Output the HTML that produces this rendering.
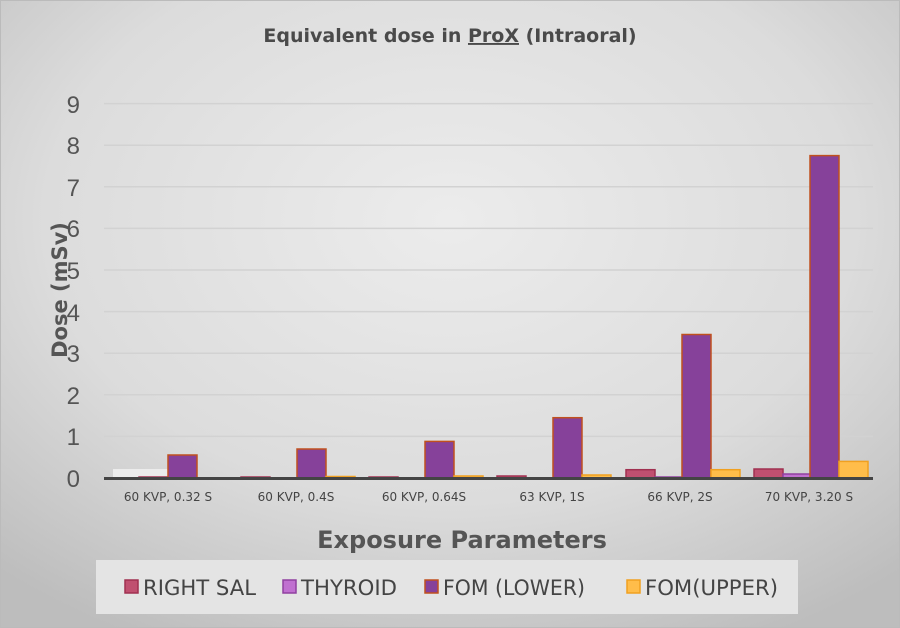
<!DOCTYPE html>
<html><head><style>
html,body{margin:0;padding:0;}
body{width:900px;height:628px;overflow:hidden;background:#d0d0d0;}
svg{display:block;font-family:"DejaVu Sans","Liberation Sans",sans-serif;}
</style></head><body>
<svg width="900" height="628" viewBox="0 0 900 628">
<defs>
<radialGradient id="bg" cx="0.5" cy="0.35" r="0.75">
<stop offset="0" stop-color="#ececec"/><stop offset="0.6" stop-color="#dcdcdc"/><stop offset="1" stop-color="#bdbdbd"/>
</radialGradient>
</defs>
<rect x="0" y="0" width="900" height="628" fill="url(#bg)"/>
<rect x="0.5" y="0.5" width="899" height="627" fill="none" stroke="#bbb"/>
<text x="450" y="42" text-anchor="middle" font-size="19" font-weight="bold" fill="#4a4a4a">Equivalent dose in <tspan text-decoration="underline">ProX</tspan> (Intraoral)</text>
<g stroke="#d2d2d2" stroke-width="1.5">
<line x1="104" x2="873" y1="436.4" y2="436.4"/><line x1="104" x2="873" y1="394.8" y2="394.8"/>
<line x1="104" x2="873" y1="353.2" y2="353.2"/><line x1="104" x2="873" y1="311.6" y2="311.6"/>
<line x1="104" x2="873" y1="270" y2="270"/><line x1="104" x2="873" y1="228.4" y2="228.4"/>
<line x1="104" x2="873" y1="186.8" y2="186.8"/><line x1="104" x2="873" y1="145.2" y2="145.2"/>
<line x1="104" x2="873" y1="103.6" y2="103.6"/>
</g>
<g font-size="24" fill="#555" text-anchor="end" font-family="Liberation Sans,sans-serif">
<text x="80" y="487">0</text><text x="80" y="445">1</text><text x="80" y="404">2</text>
<text x="80" y="362">3</text><text x="80" y="321">4</text><text x="80" y="279">5</text>
<text x="80" y="237">6</text><text x="80" y="196">7</text><text x="80" y="154">8</text>
<text x="80" y="113">9</text>
</g>
<text transform="translate(67,290) rotate(-90)" text-anchor="middle" font-size="21" font-weight="bold" fill="#555">Dose (mSv)</text>
<rect x="113" y="469" width="55" height="9" fill="#ececec"/>
<g stroke-width="1.5">
<rect x="139" y="477" width="29" height="1" fill="#c05070" stroke="#a03050"/>
<rect x="168" y="455" width="29" height="23" fill="#86419a" stroke="#c0501e"/>
<rect x="241" y="477" width="29" height="1" fill="#c05070" stroke="#a03050"/>
<rect x="297" y="449" width="29" height="29" fill="#86419a" stroke="#c0501e"/>
<rect x="326" y="476.5" width="29" height="1.5" fill="#ffbd4a" stroke="#f0a020"/>
<rect x="369" y="477" width="29" height="1" fill="#c05070" stroke="#a03050"/>
<rect x="425" y="441.4" width="29" height="36.6" fill="#86419a" stroke="#c0501e"/>
<rect x="454" y="476" width="29" height="2" fill="#ffbd4a" stroke="#f0a020"/>
<rect x="497" y="476" width="29" height="2" fill="#c05070" stroke="#a03050"/>
<rect x="553" y="417.7" width="29" height="60.3" fill="#86419a" stroke="#c0501e"/>
<rect x="582" y="475" width="29" height="3" fill="#ffbd4a" stroke="#f0a020"/>
<rect x="626" y="469.7" width="29" height="8.3" fill="#c05070" stroke="#a03050"/>
<rect x="655" y="477" width="29" height="1" fill="#c070d0" stroke="#9040a0"/>
<rect x="682" y="334.5" width="29" height="143.5" fill="#86419a" stroke="#c0501e"/>
<rect x="711" y="469.7" width="29" height="8.3" fill="#ffbd4a" stroke="#f0a020"/>
<rect x="754" y="469" width="29" height="9" fill="#c05070" stroke="#a03050"/>
<rect x="783" y="474" width="29" height="4" fill="#c070d0" stroke="#9040a0"/>
<rect x="810" y="155.6" width="29" height="322.4" fill="#86419a" stroke="#c0501e"/>
<rect x="839" y="461.4" width="29" height="16.6" fill="#ffbd4a" stroke="#f0a020"/>
</g>
<line x1="104" x2="873" y1="478.5" y2="478.5" stroke="#444" stroke-width="3"/>
<g font-size="12" fill="#444" text-anchor="middle">
<text x="168" y="501">60 KVP, 0.32 S</text><text x="296" y="501">60 KVP, 0.4S</text>
<text x="424" y="501">60 KVP, 0.64S</text><text x="552" y="501">63 KVP, 1S</text>
<text x="680" y="501">66 KVP, 2S</text><text x="809" y="501">70 KVP, 3.20 S</text>
</g>
<text x="462" y="548" text-anchor="middle" font-size="24" font-weight="bold" fill="#555">Exposure Parameters</text>
<rect x="96" y="560" width="702" height="54" fill="#e4e4e4"/>
<g font-size="21" fill="#444">
<rect x="125" y="580" width="13" height="13" fill="#c05070" stroke="#a03050" stroke-width="1.5"/>
<text x="143" y="595" textLength="113" lengthAdjust="spacingAndGlyphs">RIGHT SAL</text>
<rect x="283" y="580" width="13" height="13" fill="#c070d0" stroke="#9040a0" stroke-width="1.5"/>
<text x="301" y="595" textLength="96" lengthAdjust="spacingAndGlyphs">THYROID</text>
<rect x="425" y="580" width="13" height="13" fill="#86419a" stroke="#c0501e" stroke-width="1.5"/>
<text x="443" y="595" textLength="142" lengthAdjust="spacingAndGlyphs">FOM (LOWER)</text>
<rect x="627" y="580" width="13" height="13" fill="#ffbd4a" stroke="#f0a020" stroke-width="1.5"/>
<text x="645" y="595" textLength="133" lengthAdjust="spacingAndGlyphs">FOM(UPPER)</text>
</g>
</svg>
</body></html>
